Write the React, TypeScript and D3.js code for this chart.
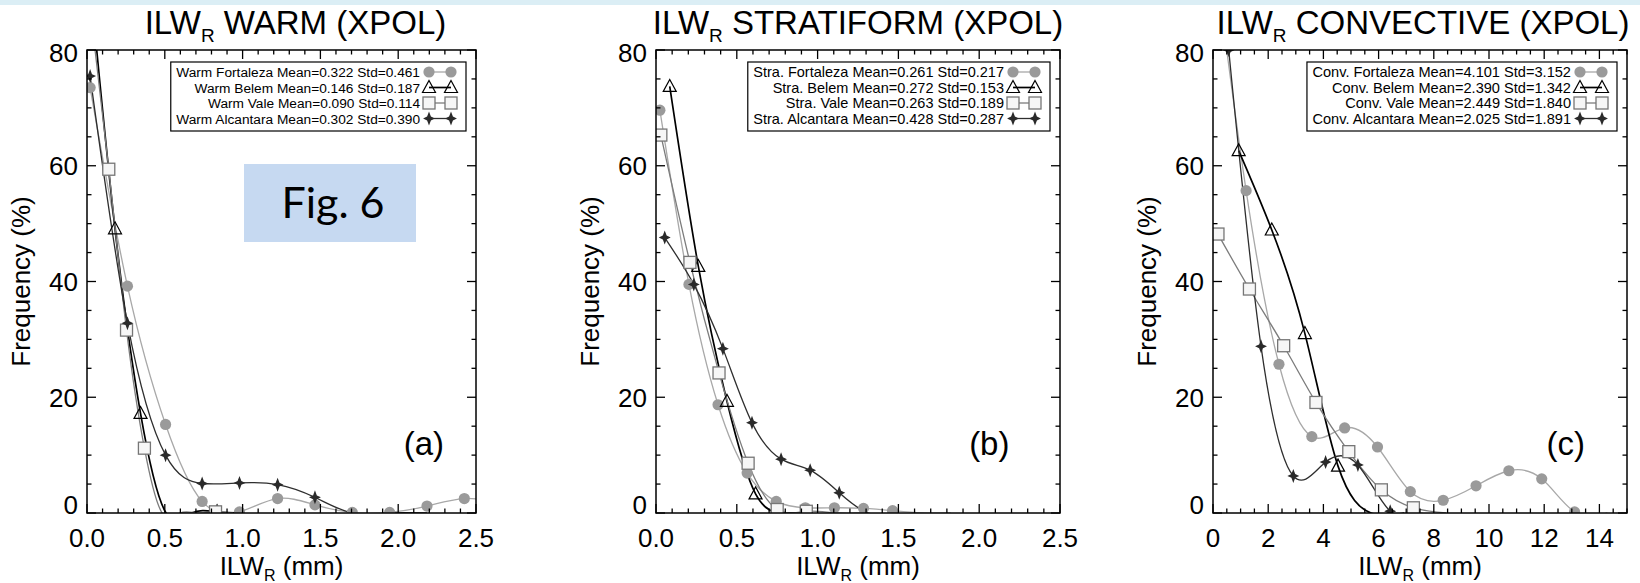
import React, { useEffect, useRef } from "react";
import * as d3 from "d3";

const W = 1640;
const H = 583;

// ---------- data ----------
const siteNames = ["Fortaleza", "Belem", "Vale", "Alcantara"];
const yTickLabels = ["0", "20", "40", "60", "80"];
const xTickLabelsAB = ["0.0", "0.5", "1.0", "1.5", "2.0", "2.5"];
const xTickLabelsC = ["0", "2", "4", "6", "8", "10", "12", "14"];

// (a) WARM
const warmMeans = ["0.322", "0.146", "0.090", "0.302"];
const warmStds = ["0.461", "0.187", "0.114", "0.390"];
const warmFortX = [0.02, 0.26, 0.505, 0.74, 0.98, 1.225, 1.465, 1.705, 1.945, 2.185, 2.425, 2.665];
const warmFortY = [73.5, 39.2, 15.3, 2.0, 0.2, 2.5, 1.4, 0.1, 0.1, 1.2, 2.5, 1.8];
const warmBelemX = [0.016, 0.18, 0.344, 0.508, 0.672, 0.836, 1.0];
const warmBelemY = [93, 49.1, 17.2, 0, 0, 0.2, 0];
const warmValeX = [0.026, 0.14, 0.254, 0.369, 0.483, 0.597, 0.711, 0.826, 0.94];
const warmValeY = [86, 59.4, 31.6, 11.2, 0, 0, 0, 0.2, 0];
const warmAlcX = [0.02, 0.26, 0.505, 0.74, 0.98, 1.225, 1.465, 1.705, 1.945, 2.185];
const warmAlcY = [75.5, 32.8, 10.0, 5.1, 5.2, 4.9, 2.7, 0, 0, 0];

// (b) STRATIFORM
const straMeans = ["0.261", "0.272", "0.263", "0.428"];
const straStds = ["0.217", "0.153", "0.189", "0.287"];
const straFortX = [0.024, 0.204, 0.384, 0.564, 0.744, 0.924, 1.104, 1.284, 1.464, 1.644, 1.824];
const straFortY = [69.6, 39.5, 18.7, 6.9, 2.0, 0.9, 0.9, 0.8, 0.4, 0, 0];
const straBelemX = [0.085, 0.262, 0.439, 0.616, 0.793, 0.97];
const straBelemY = [73.7, 42.6, 19.3, 3.3, 0, 0];
const straValeX = [0.03, 0.21, 0.39, 0.57, 0.75, 0.93, 1.11, 1.29];
const straValeY = [65.3, 43.3, 24.2, 8.6, 0.6, 0.3, 0, 0];
const straAlcX = [0.054, 0.234, 0.414, 0.594, 0.774, 0.954, 1.134, 1.314, 1.494];
const straAlcY = [47.6, 39.5, 28.4, 15.6, 9.3, 7.4, 3.5, 0, 0];

// (c) CONVECTIVE
const convMeans = ["4.101", "2.390", "2.449", "2.025"];
const convStds = ["3.152", "1.342", "1.840", "1.891"];
const convFortX = [0.01, 1.2, 2.39, 3.58, 4.77, 5.96, 7.15, 8.34, 9.53, 10.72, 11.91, 13.1, 14.29];
const convFortY = [98, 55.7, 25.7, 13.2, 14.7, 11.4, 3.7, 2.2, 4.7, 7.3, 5.9, 0.2, 0];
const convBelemX = [0.93, 2.13, 3.33, 4.53, 5.73, 6.93];
const convBelemY = [62.6, 48.9, 31.0, 8.1, 0, 0];
const convValeX = [0.18, 1.32, 2.56, 3.73, 4.92, 6.1, 7.26, 8.44];
const convValeY = [48.2, 38.7, 28.9, 19.1, 10.6, 4.0, 0.9, 0];
const convAlcX = [0.57, 1.74, 2.91, 4.08, 5.25, 6.42, 7.59];
const convAlcY = [80, 28.8, 6.4, 8.8, 8.3, 0.3, 0];

// ---------- layout / style ----------
const TOP = 50;
const BOTTOM = 513;
const FONT = "'Liberation Sans', Arial, Helvetica, sans-serif";

const panels = [
  {
    left: 87, right: 476, title: "WARM", prefix: "Warm", tag: "(a)", tagFrac: 0.866, titleShift: 14, legFont: 13.7,
    xMax: 2.5, xLabels: xTickLabelsAB, xMinor: 0.1,
    means: warmMeans, stds: warmStds,
    series: [
      { x: warmFortX, y: warmFortY },
      { x: warmBelemX, y: warmBelemY },
      { x: warmValeX, y: warmValeY },
      { x: warmAlcX, y: warmAlcY },
    ],
  },
  {
    left: 656, right: 1060, title: "STRATIFORM", prefix: "Stra.", tag: "(b)", tagFrac: 0.825, titleShift: 0, legFont: 14.5,
    xMax: 2.5, xLabels: xTickLabelsAB, xMinor: 0.1,
    means: straMeans, stds: straStds,
    series: [
      { x: straFortX, y: straFortY },
      { x: straBelemX, y: straBelemY },
      { x: straValeX, y: straValeY },
      { x: straAlcX, y: straAlcY },
    ],
  },
  {
    left: 1213, right: 1627, title: "CONVECTIVE", prefix: "Conv.", tag: "(c)", tagFrac: 0.852, titleShift: 3, legFont: 14.6,
    xMax: 15, xLabels: xTickLabelsC, xMinor: 0.5,
    means: convMeans, stds: convStds,
    series: [
      { x: convFortX, y: convFortY },
      { x: convBelemX, y: convBelemY },
      { x: convValeX, y: convValeY },
      { x: convAlcX, y: convAlcY },
    ],
  },
];

const styles = [
  { line: "#a8a8a8", width: 1.3, sym: "circle" },
  { line: "#000000", width: 1.7, sym: "triangle" },
  { line: "#7c7c7c", width: 1.3, sym: "square" },
  { line: "#2e2e2e", width: 1.3, sym: "star" },
];

function drawSymbol(g: any, kind: string, cx: number, cy: number) {
  if (kind === "circle") {
    g.append("circle").attr("cx", cx).attr("cy", cy).attr("r", 5.6).attr("fill", "#9a9a9a");
  } else if (kind === "triangle") {
    g.append("path")
      .attr("d", `M${cx},${cy - 7}L${cx + 6.5},${cy + 5}L${cx - 6.5},${cy + 5}Z`)
      .attr("fill", "none").attr("stroke", "#000").attr("stroke-width", 1.2);
  } else if (kind === "square") {
    g.append("rect").attr("x", cx - 6).attr("y", cy - 6).attr("width", 12).attr("height", 12)
      .attr("fill", "#f6f6f6").attr("stroke", "#767676").attr("stroke-width", 1.3);
  } else {
    const a = 7, b = 1.9;
    g.append("path")
      .attr("d", `M${cx},${cy - a}L${cx + b},${cy - b}L${cx + a * 0.85},${cy}L${cx + b},${cy + b}L${cx},${cy + a}L${cx - b},${cy + b}L${cx - a * 0.85},${cy}L${cx - b},${cy - b}Z`)
      .attr("fill", "#2a2a2a");
  }
}

function draw(el: SVGSVGElement) {
  const svg = d3.select(el);
  svg.selectAll("*").remove();
  svg.append("rect").attr("x", 0).attr("y", 0).attr("width", W).attr("height", H).attr("fill", "#fff");
  svg.append("rect").attr("x", 0).attr("y", 0).attr("width", W).attr("height", 5).attr("fill", "#dbeef5");

  const defs = svg.append("defs");

  panels.forEach((p, pi) => {
    const x = d3.scaleLinear().domain([0, p.xMax]).range([p.left, p.right]);
    const y = d3.scaleLinear().domain([0, 80]).range([BOTTOM, TOP]);
    const g = svg.append("g");
    const clipId = `clip-${pi}`;
    defs.append("clipPath").attr("id", clipId).append("rect")
      .attr("x", p.left).attr("y", TOP).attr("width", p.right - p.left).attr("height", BOTTOM - TOP);

    const line = d3.line<[number, number]>()
      .x((d) => x(d[0])).y((d) => y(d[1])).curve(d3.curveNatural);
    const plotG = g.append("g").attr("clip-path", `url(#${clipId})`);
    p.series.forEach((s, si) => {
      const pts: [number, number][] = s.x.map((v, i) => [v, s.y[i]]);
      plotG.append("path").attr("d", line(pts) as string).attr("fill", "none")
        .attr("stroke", styles[si].line).attr("stroke-width", styles[si].width);
    });
    p.series.forEach((s, si) => {
      s.x.forEach((v, i) => {
        if (s.y[i] > 0) drawSymbol(plotG, styles[si].sym, x(v), y(s.y[i]));
      });
    });

    g.append("rect").attr("x", p.left).attr("y", TOP).attr("width", p.right - p.left)
      .attr("height", BOTTOM - TOP).attr("fill", "none").attr("stroke", "#000").attr("stroke-width", 1.5);

    const majorX = p.xLabels.map(Number);
    const minorX = d3.range(0, p.xMax + 1e-9, p.xMinor).filter((v) => !majorX.some((m) => Math.abs(m - v) < 1e-6));
    const majorY = yTickLabels.map(Number);
    const minorY = d3.range(0, 80 + 1e-9, 5).filter((v) => !majorY.some((m) => Math.abs(m - v) < 1e-6));
    const tk = g.append("g").attr("stroke", "#000").attr("stroke-width", 1.3);
    const addX = (v: number, len: number) => {
      tk.append("line").attr("x1", x(v)).attr("x2", x(v)).attr("y1", BOTTOM).attr("y2", BOTTOM - len);
      tk.append("line").attr("x1", x(v)).attr("x2", x(v)).attr("y1", TOP).attr("y2", TOP + len);
    };
    const addY = (v: number, len: number) => {
      tk.append("line").attr("x1", p.left).attr("x2", p.left + len).attr("y1", y(v)).attr("y2", y(v));
      tk.append("line").attr("x1", p.right).attr("x2", p.right - len).attr("y1", y(v)).attr("y2", y(v));
    };
    majorX.forEach((v) => addX(v, 9));
    minorX.forEach((v) => addX(v, 4.5));
    majorY.forEach((v) => addY(v, 9));
    minorY.forEach((v) => addY(v, 4.5));

    p.xLabels.forEach((lab) => {
      g.append("text").attr("x", x(Number(lab))).attr("y", BOTTOM + 34).attr("text-anchor", "middle")
        .attr("font-family", FONT).attr("font-size", 26).attr("fill", "#000").text(lab);
    });
    yTickLabels.forEach((lab, li) => {
      const v = Number(lab);
      let yy = y(v) + 9.5;
      if (li === 0) yy = BOTTOM + 0.5;
      if (li === yTickLabels.length - 1) yy = y(v) + 12;
      g.append("text").attr("x", p.left - 9).attr("y", yy).attr("text-anchor", "end")
        .attr("font-family", FONT).attr("font-size", 26).attr("fill", "#000").text(lab);
    });

    const cx = (p.left + p.right) / 2;
    const xt = g.append("text").attr("x", cx).attr("y", 575).attr("text-anchor", "middle")
      .attr("font-family", FONT).attr("font-size", 26).attr("fill", "#000");
    xt.append("tspan").text("ILW");
    xt.append("tspan").attr("font-size", 16).attr("dy", 6).text("R");
    xt.append("tspan").attr("dy", -6).text(" (mm)");

    g.append("text").attr("transform", `translate(${p.left - 57},${(TOP + BOTTOM) / 2}) rotate(-90)`)
      .attr("text-anchor", "middle").attr("font-family", FONT).attr("font-size", 26).attr("fill", "#000")
      .text("Frequency (%)");

    const tt = g.append("text").attr("x", cx + p.titleShift).attr("y", 34).attr("text-anchor", "middle")
      .attr("font-family", FONT).attr("font-size", 33).attr("fill", "#000");
    tt.append("tspan").text("ILW");
    tt.append("tspan").attr("font-size", 19).attr("dy", 8).text("R");
    tt.append("tspan").attr("dy", -8).text(` ${p.title} (XPOL)`);

    g.append("text").attr("x", p.left + p.tagFrac * (p.right - p.left)).attr("y", y(10))
      .attr("text-anchor", "middle").attr("font-family", FONT).attr("font-size", 33).attr("fill", "#000")
      .text(p.tag);

    const lg = g.append("g");
    const legRight = p.right - 10;
    const legTop = TOP + 12;
    const textEnd = legRight - 46;
    let minStart = textEnd;
    siteNames.forEach((name, si) => {
      const cyRow = legTop + 10 + si * 15.5;
      const t = lg.append("text").attr("x", textEnd).attr("y", cyRow + 5.2).attr("text-anchor", "end")
        .attr("font-family", FONT).attr("font-size", p.legFont).attr("fill", "#000")
        .text(`${p.prefix} ${name} Mean=${p.means[si]} Std=${p.stds[si]}`);
      const node = t.node() as SVGTextElement;
      const w = node.getComputedTextLength();
      minStart = Math.min(minStart, textEnd - w);
      const x1 = legRight - 37, x2 = legRight - 15;
      lg.append("line").attr("x1", x1).attr("x2", x2).attr("y1", cyRow).attr("y2", cyRow)
        .attr("stroke", styles[si].line).attr("stroke-width", styles[si].width);
      drawSymbol(lg, styles[si].sym, x1, cyRow);
      drawSymbol(lg, styles[si].sym, x2, cyRow);
    });
    lg.insert("rect", ":first-child").attr("x", minStart - 5.5).attr("y", legTop)
      .attr("width", legRight - (minStart - 5.5)).attr("height", 69)
      .attr("fill", "#fff").attr("stroke", "#000").attr("stroke-width", 1.2);
  });

  svg.append("rect").attr("x", 244).attr("y", 164).attr("width", 172).attr("height", 78).attr("fill", "#c6d9f1");
  svg.append("text").attr("x", 333).attr("y", 218).attr("text-anchor", "middle")
    .attr("font-family", "Lato, 'Open Sans', sans-serif").attr("font-size", 43).attr("fill", "#000")
    .text("Fig. 6");
}

export default function App() {
  const ref = useRef<SVGSVGElement>(null);
  useEffect(() => {
    if (ref.current) draw(ref.current);
  }, []);
  return (
    <svg ref={ref} width={W} height={H}
      style={{ position: "absolute", left: 0, top: 0, display: "block", background: "#fff" }} />
  );
}
